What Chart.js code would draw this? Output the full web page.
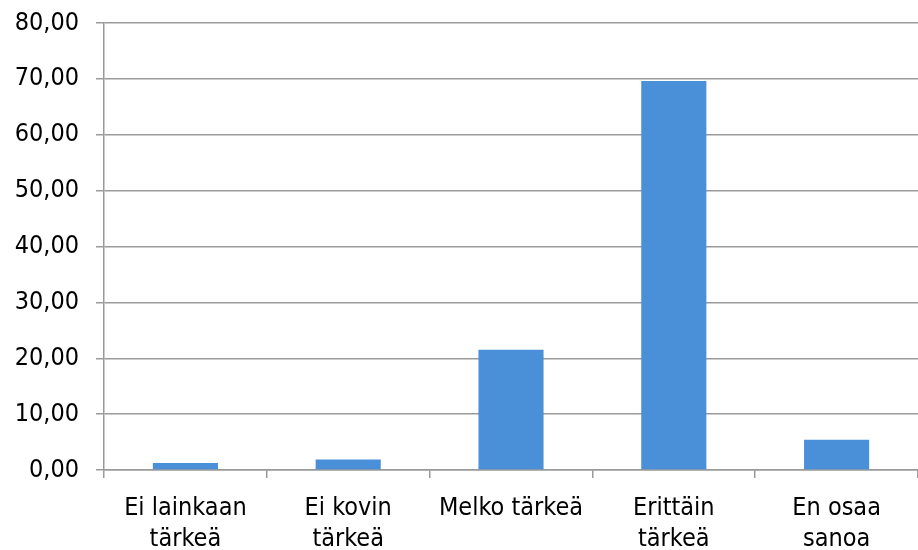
<!DOCTYPE html>
<html>
<head>
<meta charset="utf-8">
<script src="https://cdn.jsdelivr.net/npm/chart.js@4"></script>
<style>
  html, body { margin: 0; padding: 0; background: #fff; }
  #wrap { width: 918px; height: 550px; }
</style>
</head>
<body>
<div id="wrap"><canvas id="graafi" width="918" height="550"></canvas></div>
<script>
const luokat = [
    ['Ei lainkaan', 'tärkeä'],
    ['Ei kovin', 'tärkeä'],
    'Melko tärkeä',
    ['Erittäin', 'tärkeä'],
    ['En osaa', 'sanoa']
];
const osuudet = [1.25, 1.9, 21.5, 69.6, 5.4];
const yTicks = [0, 10, 20, 30, 40, 50, 60, 70, 80];

const fontti = { family: '"DejaVu Sans Condensed", "DejaVu Sans", sans-serif', size: 25, lineHeight: 1.25 };
const viiva = '#9a9a9a';

const ctx = document.getElementById('graafi').getContext('2d');
const graafi = new Chart(ctx, {
    type: 'bar',
    data: {
        labels: luokat,
        datasets: [{
            data: osuudet,
            backgroundColor: '#4a90d9',
            borderWidth: 0,
            categoryPercentage: 1,
            barPercentage: 0.4
        }]
    },
    options: {
        responsive: false,
        animation: false,
        layout: {
            padding: { top: 23, right: 0, bottom: 0, left: 0 }
        },
        scales: {
            x: {
                grid: {
                    offset: true,
                    drawOnChartArea: false,
                    drawTicks: true,
                    tickLength: 8,
                    lineWidth: 1.5,
                    color: viiva
                },
                border: { color: viiva, width: 1.5 },
                ticks: {
                    color: '#000',
                    font: fontti,
                    maxRotation: 0,
                    autoSkip: false,
                    padding: 15
                },
                afterFit: scale => {
                    scale.height = 80;
                    scale.paddingLeft = 0;
                    scale.paddingRight = 0;
                }
            },
            y: {
                min: 0,
                max: 80,
                afterBuildTicks: scale => {
                    scale.ticks = yTicks.map(v => ({ value: v }));
                },
                grid: {
                    color: viiva,
                    lineWidth: 1.5,
                    tickLength: 8
                },
                border: { color: viiva, width: 1.5 },
                ticks: {
                    color: '#000',
                    font: fontti,
                    padding: 17,
                    callback: v => v.toFixed(2).replace('.', ',')
                },
                afterFit: scale => {
                    scale.width = 104;
                    scale.paddingTop = 0;
                    scale.paddingBottom = 0;
                }
            }
        },
        plugins: {
            legend: { display: false },
            tooltip: { enabled: false }
        }
    }
});
</script>
</body>
</html>
